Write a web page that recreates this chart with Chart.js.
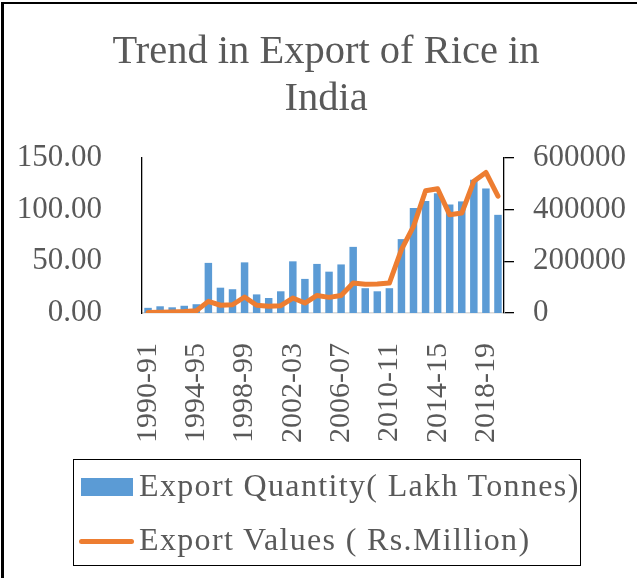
<!DOCTYPE html>
<html>
<head>
<meta charset="utf-8">
<title>Trend in Export of Rice in India</title>
<script src="https://cdn.jsdelivr.net/npm/chart.js@4.4.1/dist/chart.umd.min.js"></script>
<style>
  html, body { margin: 0; padding: 0; background: #fff; }
  body { width: 637px; height: 578px; position: relative; overflow: hidden; font-family: 'Liberation Serif', serif; color: #595959; }
  #frame { position: absolute; left: 1px; top: 2px; width: 700px; height: 700px; border-left: 3px solid #000; border-top: 2px solid #000; }
  #title { position: absolute; left: 0; top: 26px; width: 652px; text-align: center; font-size: 40.5px; line-height: 47px; }
  #legend { position: absolute; left: 73px; top: 459px; width: 506px; height: 105px; border: 1.5px solid #000; }
  .swatch { position: absolute; }
  .ltext { position: absolute; font-size: 32px; line-height: 32px; letter-spacing: 1.35px; white-space: nowrap; }
  canvas { position: absolute; left: 0; top: 0; }
</style>
</head>
<body>
<div id="frame"></div>
<canvas id="riceChart" width="637" height="578"></canvas>
<div id="title">Trend in Export of Rice in<br>India</div>
<div id="legend"></div>
<div class="swatch" style="left:81px;top:478px;width:52px;height:18px;background:#5b9bd5"></div>
<div class="ltext" style="left:139px;top:469px">Export Quantity( Lakh Tonnes)</div>
<div class="swatch" style="left:79px;top:539px;width:55px;height:5px;border-radius:3px;background:#ed7d31"></div>
<div class="ltext" style="left:139px;top:523px">Export Values ( Rs.Million)</div>

<script>
const years = ["1990-91","1991-92","1992-93","1993-94","1994-95","1995-96","1996-97","1997-98","1998-99","1999-00",
  "2000-01","2001-02","2002-03","2003-04","2004-05","2005-06","2006-07","2007-08","2008-09","2009-10",
  "2010-11","2011-12","2012-13","2013-14","2014-15","2015-16","2016-17","2017-18","2018-19","2019-20"];

// Lakh tonnes (left axis)
const exportQuantity = [5, 6.5, 5.5, 7, 8.5, 48.5, 24.5, 23, 49, 18,
  14.5, 21, 50, 33, 47.5, 40, 47, 64, 24, 21,
  24, 71.5, 101.5, 108.5, 116, 105, 108, 129, 120.5, 95];

// Rs. million (right axis)
const exportValue = [2000, 3000, 4000, 5500, 9000, 45000, 30000, 32000, 62000, 30000,
  26000, 28500, 58000, 38500, 68000, 60500, 68000, 116000, 111000, 112000,
  116000, 245000, 335000, 473000, 481000, 380000, 387000, 510000, 544000, 452000];

const leftTicks = [0, 50, 100, 150];
const rightTicks = [0, 200000, 400000, 600000];

Chart.defaults.font.family = "'Liberation Serif', serif";
Chart.defaults.color = '#595959';

new Chart("riceChart", {
  type: "bar",
  data: {
    labels: years,
    datasets: [
      {
        type: "line",
        label: "Export Values ( Rs.Million)",
        data: exportValue,
        yAxisID: "yRight",
        borderColor: "#ed7d31",
        backgroundColor: "#ed7d31",
        borderWidth: 5,
        borderJoinStyle: "round",
        borderCapStyle: "round",
        pointRadius: 0,
        tension: 0,
        order: 0
      },
      {
        label: "Export Quantity( Lakh Tonnes)",
        data: exportQuantity,
        yAxisID: "yLeft",
        backgroundColor: "#5b9bd5",
        barPercentage: 0.62,
        categoryPercentage: 1.0,
        order: 1
      }
    ]
  },
  options: {
    responsive: false,
    animation: false,
    layout: { padding: { top: 158, left: 0, right: 0, bottom: 0 } },
    plugins: {
      legend: { display: false },
      title: { display: false },
      tooltip: { enabled: false }
    },
    scales: {
      x: {
        grid: { display: false },
        border: { display: true, color: "#d9d9d9", width: 1.5 },
        ticks: {
          autoSkip: false,
          minRotation: 90,
          maxRotation: 90,
          padding: 22,
          font: { size: 30 },
          callback: function(val, idx) {
            return idx % 4 === 0 ? years[idx] : '';
          }
        },
        afterFit: function(scale) { scale.height = 265; }
      },
      yLeft: {
        position: "left",
        min: leftTicks[0],
        max: leftTicks[leftTicks.length - 1],
        afterBuildTicks: function(scale) { scale.ticks = leftTicks.map(v => ({ value: v })); },
        grid: { display: false },
        border: { display: true, color: "#000", width: 1.3 },
        ticks: {
          padding: 32,
          font: { size: 31 },
          callback: v => v.toFixed(2)
        },
        afterFit: function(scale) { scale.width = 142; }
      },
      yRight: {
        position: "right",
        min: rightTicks[0],
        max: rightTicks[rightTicks.length - 1],
        afterBuildTicks: function(scale) { scale.ticks = rightTicks.map(v => ({ value: v })); },
        grid: { display: true, drawOnChartArea: false, drawTicks: true, tickLength: 10, color: "#000", lineWidth: 1.3 },
        border: { display: true, color: "#000", width: 1.3 },
        ticks: {
          padding: 19,
          font: { size: 31 },
          callback: v => String(v)
        },
        afterFit: function(scale) { scale.width = 133; }
      }
    }
  }
});
</script>
</body>
</html>
